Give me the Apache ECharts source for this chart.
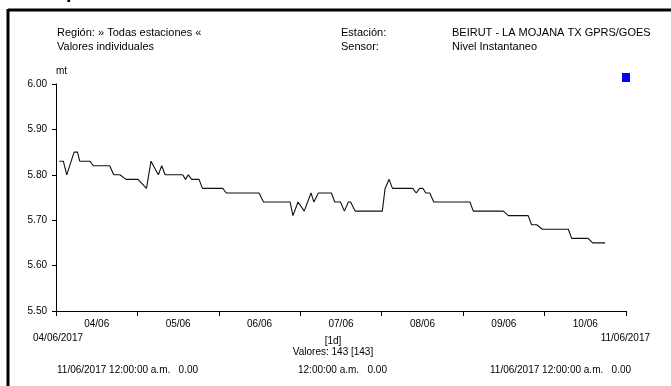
<!DOCTYPE html>
<html><head><meta charset="utf-8">
<script src="https://cdn.jsdelivr.net/npm/echarts@6/dist/echarts.min.js"></script>
<style>html,body{margin:0;padding:0;background:#fff}#c{width:671px;height:386px}</style>
</head><body><div id="c"></div>
<script>
const times = ['2017-06-04 01:00','2017-06-04 02:10','2017-06-04 03:10','2017-06-04 05:20','2017-06-04 06:20','2017-06-04 07:00','2017-06-04 10:00','2017-06-04 11:00','2017-06-04 15:50','2017-06-04 17:00','2017-06-04 18:50','2017-06-04 20:40',
'2017-06-05 00:10','2017-06-05 02:40','2017-06-05 04:00','2017-06-05 06:10','2017-06-05 07:10','2017-06-05 08:10','2017-06-05 13:20','2017-06-05 14:10','2017-06-05 15:00','2017-06-05 16:00','2017-06-05 18:10','2017-06-05 19:10',
'2017-06-06 01:10','2017-06-06 02:10','2017-06-06 11:50','2017-06-06 13:10','2017-06-06 21:00','2017-06-06 21:50','2017-06-06 23:20',
'2017-06-07 01:10','2017-06-07 03:10','2017-06-07 04:00','2017-06-07 05:20','2017-06-07 09:10','2017-06-07 10:10','2017-06-07 11:50','2017-06-07 13:00','2017-06-07 14:10','2017-06-07 14:50','2017-06-07 16:10',
'2017-06-08 00:10','2017-06-08 01:00','2017-06-08 02:10','2017-06-08 03:10','2017-06-08 09:10','2017-06-08 10:10','2017-06-08 11:10','2017-06-08 12:10','2017-06-08 13:00','2017-06-08 14:10','2017-06-08 15:20',
'2017-06-09 02:00','2017-06-09 03:00','2017-06-09 11:50','2017-06-09 13:20','2017-06-09 19:10','2017-06-09 20:10','2017-06-09 21:40','2017-06-09 23:20',
'2017-06-10 01:20','2017-06-10 07:00','2017-06-10 08:00','2017-06-10 12:50','2017-06-10 14:10','2017-06-10 17:50'];
const values = [5.83,5.83,5.80,5.85,5.85,5.83,5.83,5.82,5.82,5.80,5.80,5.79,
5.79,5.77,5.83,5.80,5.82,5.80,5.80,5.79,5.80,5.79,5.79,5.77,
5.77,5.76,5.76,5.74,5.74,5.71,5.74,
5.72,5.76,5.74,5.76,5.76,5.74,5.74,5.72,5.74,5.74,5.72,
5.72,5.77,5.79,5.77,5.77,5.76,5.77,5.77,5.76,5.76,5.74,
5.74,5.72,5.72,5.71,5.71,5.69,5.69,5.68,
5.68,5.68,5.66,5.66,5.65,5.65];
const dayLabels = ['04/06','05/06','06/06','07/06','08/06','09/06','10/06'];
const xStart = '2017-06-04 00:00', xEnd = '2017-06-11 00:00';
const yMin = 5.5, yMax = 6.0, yStep = 0.1;

const FONT = '"Liberation Sans Narrow", "Liberation Sans", Arial, sans-serif';
const chart = echarts.init(document.getElementById('c'), null, {renderer:'canvas'});
const txt = (x, y, s, extra) => ({type:'text', x:x, y:y, style:Object.assign({text:s, font:'11px ' + FONT, fill:'#000', textVerticalAlign:'middle'}, extra||{})});
chart.setOption({
  animation:false,
  grid:{left:56, top:84, width:570, height:227, containLabel:false},
  xAxis:[{
    type:'time', min:xStart, max:xEnd, minInterval:86400000, maxInterval:86400000,
    axisLine:{lineStyle:{color:'#000', width:1}},
    axisTick:{show:true, length:5, lineStyle:{color:'#000'}},
    axisLabel:{show:false}, splitLine:{show:false}
  },{
    type:'category', data:dayLabels, boundaryGap:true, position:'bottom',
    axisLine:{show:false}, axisTick:{show:false}, splitLine:{show:false},
    axisLabel:{margin:8, color:'#000', fontFamily:FONT, fontSize:10}
  }],
  yAxis:{
    type:'value', min:yMin, max:yMax, interval:yStep, name:'mt',
    nameLocation:'end', nameGap:8, nameTextStyle:{color:'#000', fontFamily:FONT, fontSize:10, align:'left'},
    axisLine:{show:true, lineStyle:{color:'#000'}},
    axisTick:{show:true, length:4, lineStyle:{color:'#000'}},
    axisLabel:{margin:9, color:'#000', fontFamily:FONT, fontSize:10, formatter:v=>v.toFixed(2)},
    splitLine:{show:false}
  },
  series:[{
    type:'line', xAxisIndex:0, data:times.map((t,i)=>[t, values[i]]),
    showSymbol:false, lineStyle:{color:'#111', width:1.1}
  }],
  graphic:[
    {type:'line', shape:{x1:8, y1:10, x2:671, y2:10}, style:{stroke:'#000', lineWidth:3}},
    {type:'line', shape:{x1:8, y1:9, x2:8, y2:386}, style:{stroke:'#000', lineWidth:3}},
    {type:'text', x:66, y:2, style:{text:'p', font:'bold 20px "Liberation Sans", Arial', fill:'#000', textVerticalAlign:'bottom'}},
    {type:'rect', shape:{x:622, y:73, width:8, height:9}, style:{fill:'#0000ff'}},
    txt(57, 33, 'Región: » Todas estaciones «'),
    txt(57, 47, 'Valores individuales'),
    txt(341, 33, 'Estación:'),
    txt(452, 33, 'BEIRUT - LA MOJANA TX GPRS/GOES'),
    txt(341, 47, 'Sensor:'),
    txt(452, 47, 'Nivel Instantaneo'),
    txt(33, 338, '04/06/2017', {font:'10px ' + FONT}),
    txt(650, 338, '11/06/2017', {font:'10px ' + FONT, textAlign:'right'}),
    txt(333, 341, '[1d]', {font:'10px ' + FONT, textAlign:'center'}),
    txt(333, 352, 'Valores: 143 [143]', {font:'10px ' + FONT, textAlign:'center'}),
    txt(57, 370, '11/06/2017 12:00:00 a.m.   0.00', {font:'10px ' + FONT}),
    txt(298, 370, '12:00:00 a.m.   0.00', {font:'10px ' + FONT}),
    txt(490, 370, '11/06/2017 12:00:00 a.m.   0.00', {font:'10px ' + FONT})
  ]
});
</script></body></html>
